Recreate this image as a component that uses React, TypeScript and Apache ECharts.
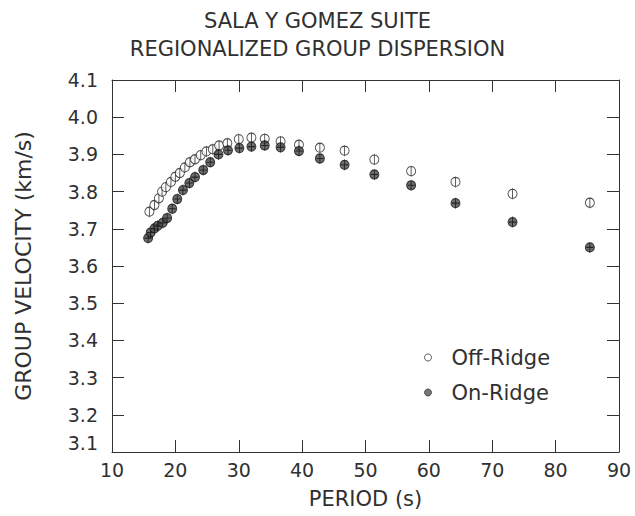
import React, { useEffect, useRef } from "react";
import * as echarts from "echarts";

// Regionalized group-velocity dispersion, Sala y Gomez suite
const offRidgePeriod = [15.9, 16.7, 17.4, 17.9, 18.5, 19.3, 20.0, 20.7, 21.5, 22.3, 23.1, 24.0, 24.9, 25.9, 26.9, 28.2, 30.0, 32.0, 34.1, 36.6, 39.5, 42.8, 46.7, 51.4, 57.2, 64.2, 73.2, 85.4];
const offRidgeVelocity = [3.746, 3.764, 3.782, 3.8, 3.812, 3.826, 3.84, 3.85, 3.865, 3.879, 3.887, 3.898, 3.908, 3.914, 3.924, 3.93, 3.941, 3.945, 3.942, 3.935, 3.926, 3.918, 3.91, 3.886, 3.855, 3.826, 3.794, 3.77];

const onRidgePeriod = [15.7, 16.1, 16.7, 17.2, 18.0, 18.7, 19.5, 20.3, 21.2, 22.2, 23.1, 24.4, 25.5, 26.8, 28.3, 30.1, 32.0, 34.1, 36.6, 39.5, 42.8, 46.7, 51.4, 57.2, 64.2, 73.2, 85.4];
const onRidgeVelocity = [3.675, 3.69, 3.701, 3.708, 3.716, 3.729, 3.754, 3.78, 3.804, 3.823, 3.839, 3.858, 3.879, 3.9, 3.911, 3.917, 3.921, 3.924, 3.919, 3.909, 3.889, 3.872, 3.846, 3.817, 3.769, 3.718, 3.65];

const periodTicks = { min: 10, max: 90, step: 10 };
const velocityTicks = { min: 3.1, max: 4.1, step: 0.1 };

const titleLines = ["SALA Y GOMEZ SUITE", "REGIONALIZED GROUP DISPERSION"];
const xTitle = "PERIOD (s)";
const yTitle = "GROUP VELOCITY (km/s)";
const seriesNames = ["Off-Ridge", "On-Ridge"];

const FONT = '"DejaVu Sans", sans-serif';
const INK = "#303030";

// circle with a short vertical bar through it
const OPEN_MARK = "path://M0,-6 L0,6 M5,0 A5,5 0 1 1 -5,0 A5,5 0 1 1 5,0 Z";
const FILLED_MARK = "path://M5,0 A5,5 0 1 1 -5,0 A5,5 0 1 1 5,0 Z M-4,0 L4,0 M0,-6 L0,6";

function pairs(xs: number[], ys: number[]) {
  return xs.map((x, i) => [x, ys[i]]);
}

export default function App() {
  const ref = useRef<HTMLDivElement>(null);

  useEffect(() => {
    if (!ref.current) return;
    const chart = echarts.init(ref.current, null, { renderer: "svg" });
    const line = { color: "#333", width: 1 };
    const tick = { show: true, inside: true, length: 12, lineStyle: line };
    const titleStyle = { fontFamily: FONT, fontSize: 21, fontWeight: "normal" as const, color: INK };

    const xBase = {
      type: "value" as const,
      min: periodTicks.min,
      max: periodTicks.max,
      interval: periodTicks.step,
      splitLine: { show: false },
      axisLine: { show: true, onZero: false, lineStyle: line },
      axisTick: tick,
    };
    const yBase = {
      type: "value" as const,
      min: velocityTicks.min,
      max: velocityTicks.max,
      interval: velocityTicks.step,
      splitLine: { show: false },
      axisLine: { show: true, onZero: false, lineStyle: line },
      axisTick: tick,
    };

    chart.setOption({
      animation: false,
      backgroundColor: "#fff",
      title: titleLines.map((text, i) => ({
        text,
        left: "center",
        top: 10 + i * 28,
        padding: 0,
        textStyle: titleStyle,
      })),
      grid: { left: 112, right: 16, top: 80, bottom: 64, containLabel: false },
      legend: {
        orient: "vertical",
        left: 424,
        top: 347,
        padding: 0,
        itemWidth: 7,
        itemHeight: 7,
        itemGap: 14,
        textStyle: {
          fontFamily: FONT,
          fontSize: 21,
          color: INK,
          lineHeight: 20,
          padding: [0, 0, 0, 15],
        },
        data: [
          { name: seriesNames[0], icon: "circle", itemStyle: { color: "#fff", borderColor: "#333", borderWidth: 1 } },
          { name: seriesNames[1], icon: "circle", itemStyle: { color: "#555", borderColor: "#333", borderWidth: 1 } },
        ],
      },
      xAxis: [
        {
          ...xBase,
          position: "bottom",
          name: xTitle,
          nameLocation: "middle",
          nameGap: 36,
          nameTextStyle: { fontFamily: FONT, fontSize: 21, color: INK },
          axisLabel: { fontFamily: FONT, fontSize: 19, color: INK, margin: 8 },
        },
        {
          ...xBase,
          position: "top",
          axisLabel: { show: false },
        },
      ],
      yAxis: [
        {
          ...yBase,
          position: "left",
          name: yTitle,
          nameLocation: "middle",
          nameGap: 78,
          nameTextStyle: { fontFamily: FONT, fontSize: 22, color: INK },
          axisLabel: {
            fontFamily: FONT,
            fontSize: 19,
            color: INK,
            margin: 14,
            formatter: (v: number) => (Math.abs(v - velocityTicks.min) < 1e-6 ? "{low|" + v.toFixed(1) + "}" : v.toFixed(1)),
            rich: { low: { fontFamily: FONT, fontSize: 19, color: INK, padding: [0, 0, 18, 0] } },
          },
        },
        {
          ...yBase,
          position: "right",
          axisLabel: { show: false },
        },
      ],
      series: [
        {
          name: seriesNames[0],
          type: "scatter",
          data: pairs(offRidgePeriod, offRidgeVelocity),
          symbol: OPEN_MARK,
          symbolSize: [9, 11],
          itemStyle: { color: "#fff", borderColor: "#222", borderWidth: 1 },
        },
        {
          name: seriesNames[1],
          type: "scatter",
          data: pairs(onRidgePeriod, onRidgeVelocity),
          symbol: FILLED_MARK,
          symbolSize: [9, 11],
          itemStyle: { color: "#4a4a4a", borderColor: "#111", borderWidth: 1 },
        },
      ],
    });

    return () => chart.dispose();
  }, []);

  return (
    <div
      ref={ref}
      style={{ position: "fixed", left: 0, top: 0, width: 635, height: 516, background: "#fff" }}
    />
  );
}
